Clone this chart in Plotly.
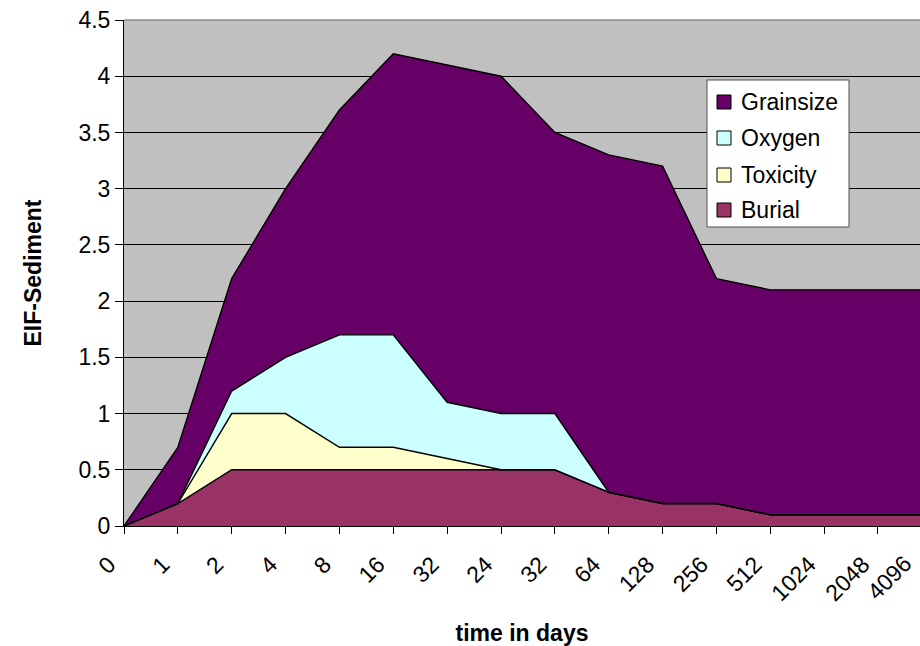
import plotly.graph_objects as go

# Sampling times (category labels, in plotting order)
days = ["0", "1", "2", "4", "8", "16", "32", "24", "32", "64",
        "128", "256", "512", "1024", "2048", "4096"]

# EIF contributions per stressor (stacked)
burial    = [0, 0.2, 0.5, 0.5, 0.5, 0.5, 0.5, 0.5, 0.5, 0.3, 0.2, 0.2, 0.1, 0.1, 0.1, 0.1]
toxicity  = [0, 0.0, 0.5, 0.5, 0.2, 0.2, 0.1, 0.0, 0.0, 0.0, 0.0, 0.0, 0.0, 0.0, 0.0, 0.0]
oxygen    = [0, 0.0, 0.2, 0.5, 1.0, 1.0, 0.5, 0.5, 0.5, 0.0, 0.0, 0.0, 0.0, 0.0, 0.0, 0.0]
grainsize = [0, 0.5, 1.0, 1.5, 2.0, 2.5, 3.0, 3.0, 2.5, 3.0, 3.0, 2.0, 2.0, 2.0, 2.0, 2.0]

y_ticks = [0, 0.5, 1, 1.5, 2, 2.5, 3, 3.5, 4, 4.5]
y_tick_text = ["0", "0.5", "1", "1.5", "2", "2.5", "3", "3.5", "4", "4.5"]

series = [
    ("Burial", burial, "#993366"),
    ("Toxicity", toxicity, "#FFFFCC"),
    ("Oxygen", oxygen, "#CCFFFF"),
    ("Grainsize", grainsize, "#660066"),
]

FONT = "Liberation Sans, Arial, sans-serif"
FS = 23
W, H = 920, 646
L, R, T, B = 124, 0, 20, 120

pos = list(range(len(days)))

fig = go.Figure()
for name, vals, col in series:
    fig.add_trace(go.Scatter(
        x=pos, y=vals, name=name, mode="lines",
        stackgroup="eif", fillcolor=col,
        line=dict(color="#000000", width=1.4),
        showlegend=False, hoverinfo="skip",
    ))

# pixel -> paper helpers for the hand-drawn legend
pw, ph = W - L - R, H - T - B
def px(x):
    return (x - L) / pw
def py(y):
    return (H - B - y) / ph

shapes = [
    # plot-area top border
    dict(type="line", xref="paper", yref="paper", x0=0, x1=1, y0=1, y1=1,
         line=dict(color="#8c8c8c", width=1.5), layer="above"),
    # legend frame
    dict(type="rect", xref="paper", yref="paper",
         x0=px(707), x1=px(849), y0=py(227), y1=py(80),
         fillcolor="#FFFFFF", line=dict(color="#505050", width=1), layer="above"),
]
annotations = []
legend_rows = [("Grainsize", "#660066", 102), ("Oxygen", "#CCFFFF", 138),
               ("Toxicity", "#FFFFCC", 175), ("Burial", "#993366", 210)]
for name, col, yc in legend_rows:
    shapes.append(dict(type="rect", xref="paper", yref="paper",
                       x0=px(717), x1=px(731), y0=py(yc + 7), y1=py(yc - 7),
                       fillcolor=col, line=dict(color="#000000", width=1),
                       layer="above"))
    annotations.append(dict(xref="paper", yref="paper", x=px(739), y=py(yc),
                            text=name, showarrow=False, xanchor="left",
                            yanchor="middle",
                            font=dict(family=FONT, size=FS, color="#000000")))

# last category sits just past the visible plot edge
annotations.append(dict(xref="paper", yref="paper", x=px(889), y=py(578),
                        text=days[-1], showarrow=False, textangle=-45,
                        xanchor="center", yanchor="middle",
                        font=dict(family=FONT, size=FS, color="#000000")))

fig.update_layout(
    width=W, height=H,
    margin=dict(l=L, r=R, t=T, b=B),
    paper_bgcolor="#FFFFFF", plot_bgcolor="#C0C0C0",
    font=dict(family=FONT, size=FS, color="#000000"),
    shapes=shapes, annotations=annotations,
    showlegend=False,
)
fig.update_xaxes(
    range=[0, 14.78], tickmode="array", tickvals=pos, ticktext=days,
    tickangle=-45, ticks="outside", ticklen=7, tickcolor="#000000",
    ticklabelshift=-15, ticklabelstandoff=8,
    showline=True, linecolor="#000000", linewidth=1, showgrid=False,
    zeroline=False, tickfont=dict(family=FONT, size=FS),
    title=dict(text="<b>time in days</b>", font=dict(family=FONT, size=FS),
               standoff=24),
)
fig.update_yaxes(
    range=[0, 4.5], tickmode="array", tickvals=y_ticks, ticktext=y_tick_text,
    ticks="outside", ticklen=8, tickcolor="#000000",
    showline=True, linecolor="#000000", linewidth=1,
    showgrid=True, gridcolor="#000000", gridwidth=1, zeroline=False,
    tickfont=dict(family=FONT, size=FS),
    title=dict(text="<b>EIF-Sediment</b>", font=dict(family=FONT, size=FS),
               standoff=30),
)

fig.write_html("out.html")
